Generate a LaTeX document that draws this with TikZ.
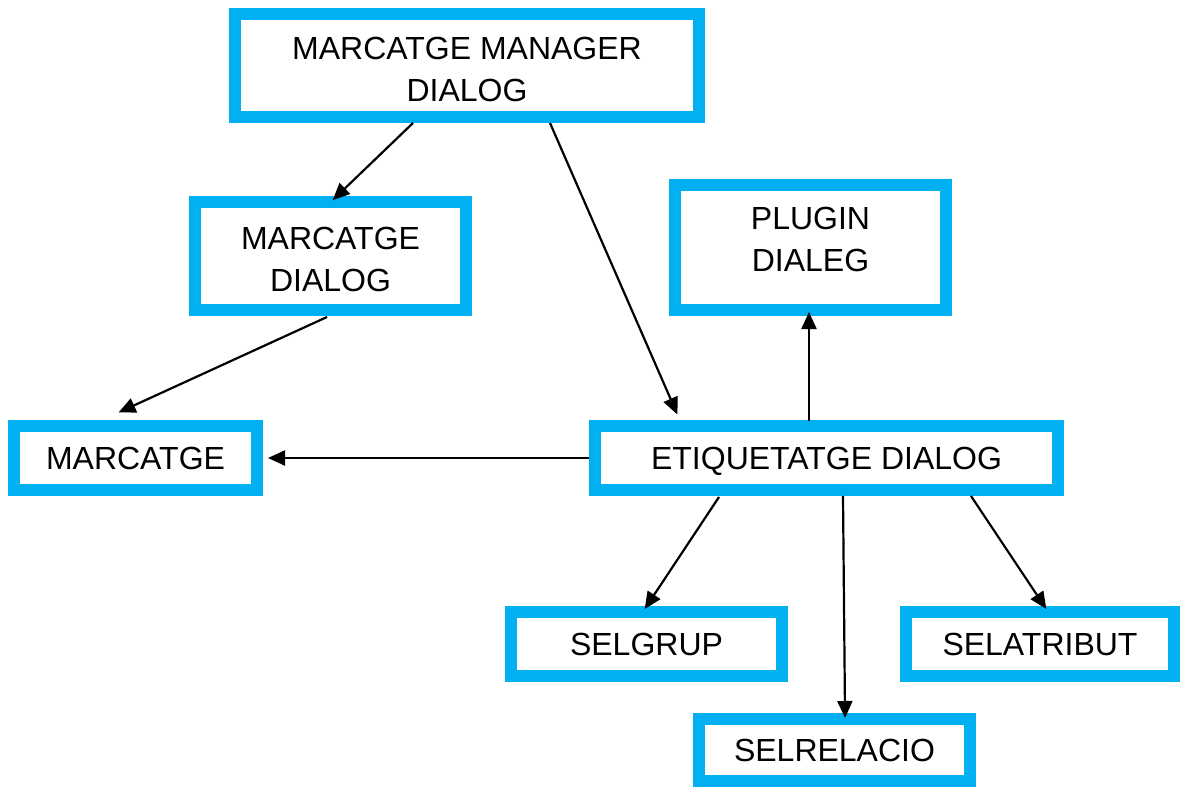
\documentclass[tikz,border=0pt]{standalone}
\usepackage{fontspec}
\setmainfont{Liberation Sans}
\usetikzlibrary{arrows.meta,calc}
\definecolor{boxblue}{HTML}{00B0F0}
\newcommand{\toplift}{\rule{0pt}{29.5pt}}
\tikzset{
  box/.style={draw=boxblue, line width=12pt, fill=white, align=center, inner sep=0pt,
    text depth=0pt, font=\fontsize{32}{42}\selectfont},
  arr/.style={line width=2.2pt, shorten >=-6pt, -{Triangle[length=17pt,width=15pt]}}
}
\begin{document}
\begin{tikzpicture}[x=1pt, y=-1pt]
\useasboundingbox (0,0) rectangle (1189,787);
\node[box, minimum width=464pt, minimum height=103pt] (mmd) at (467,65.5) {\toplift MARCATGE MANAGER\\DIALOG};
\node[box, minimum width=271pt, minimum height=108pt] (md) at (330.5,256) {\toplift MARCATGE\\DIALOG};
\node[box, minimum width=271pt, minimum height=125pt, text depth=16pt] (plugin) at (810.5,247.5) {PLUGIN\\DIALEG};
\node[box, minimum width=243pt, minimum height=64pt] (marcatge) at (135.5,458) {MARCATGE};
\node[box, minimum width=463pt, minimum height=64pt] (ed) at (826.5,458) {ETIQUETATGE DIALOG};
\node[box, minimum width=271pt, minimum height=64pt] (selgrup) at (646.5,644) {SELGRUP};
\node[box, minimum width=268pt, minimum height=64pt] (selatribut) at (1040,644) {SELATRIBUT};
\node[box, minimum width=271pt, minimum height=62pt] (selrelacio) at (834.5,750) {SELRELACIO};
\draw[arr] ($(mmd.south)+(-54,0)$) -- ($(md.north)+(6.5,0)$);
\draw[arr] ($(mmd.south)+(83,0)$) -- ($(ed.north)+(-151.5,-11)$);
\draw[arr] ($(md.south)+(-3.5,1)$) -- ($(marcatge.north)+(-11.5,-10)$);
\draw[arr] (ed.west) -- ($(marcatge.east)+(11,0)$);
\draw[arr] ($(ed.north)+(-17.5,1)$) -- ($(plugin.south)+(-1.5,2)$);
\draw[arr] ($(ed.south)+(-107.5,1)$) -- ($(selgrup.north)+(1.5,-2)$);
\draw[arr] ($(ed.south)+(16.5,0)$) -- ($(selrelacio.north)+(10.5,-1)$);
\draw[arr] ($(ed.south)+(144.5,0)$) -- ($(selatribut.north)+(3,-2)$);
\end{tikzpicture}
\end{document}
